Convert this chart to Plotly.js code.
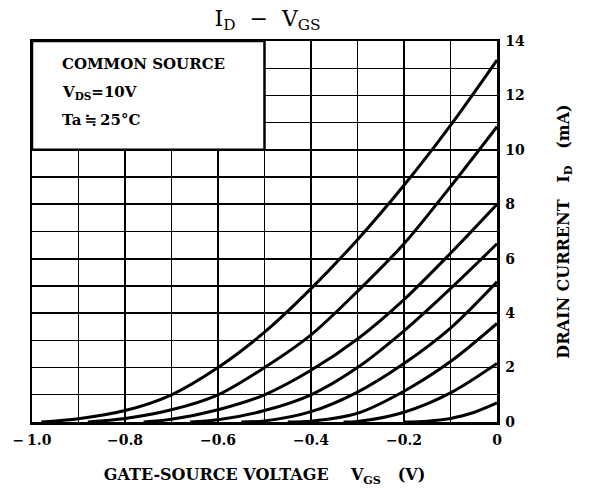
<!DOCTYPE html>
<html>
<head>
<meta charset="utf-8">
<script src="https://cdn.plot.ly/plotly-3.0.1.min.js"></script>
<style>html,body{margin:0;padding:0;background:#fff;}</style>
</head>
<body>
<div id="chart" style="width:592px;height:491px;"></div>
<script>
// Gate-source voltage (V) and drain current (mA) for each curve
const c1V = [-0.98, -0.9, -0.8, -0.7, -0.6, -0.5, -0.4, -0.3, -0.2, -0.1, 0];
const c1I = [0, 0.12, 0.42, 1.0, 2.0, 3.3, 4.9, 6.7, 8.7, 10.9, 13.3];
const c2V = [-0.88, -0.8, -0.7, -0.6, -0.5, -0.4, -0.3, -0.2, -0.1, 0];
const c2I = [0, 0.13, 0.45, 1.0, 2.0, 3.2, 4.8, 6.55, 8.65, 10.85];
const c3V = [-0.76, -0.7, -0.6, -0.5, -0.4, -0.3, -0.2, -0.1, 0];
const c3I = [0, 0.1, 0.45, 1.0, 1.9, 3.05, 4.5, 6.2, 8.0];
const c4V = [-0.66, -0.6, -0.5, -0.4, -0.3, -0.2, -0.1, 0];
const c4I = [0, 0.08, 0.42, 1.0, 2.0, 3.35, 4.9, 6.55];
const c5V = [-0.55, -0.5, -0.4, -0.3, -0.2, -0.1, 0];
const c5I = [0, 0.04, 0.38, 1.1, 2.15, 3.45, 5.15];
const c6V = [-0.45, -0.4, -0.3, -0.2, -0.1, 0];
const c6I = [0, 0.03, 0.32, 1.13, 2.22, 3.62];
const c7V = [-0.33, -0.3, -0.2, -0.1, 0];
const c7I = [0, 0.02, 0.36, 1.07, 2.15];
const c8V = [-0.2, -0.15, -0.1, -0.05, 0];
const c8I = [0, 0.03, 0.13, 0.35, 0.7];

const xTickVals = [-1.0, -0.8, -0.6, -0.4, -0.2, 0];
const xTickText = ['\u2212\u20091.0', '\u22120.8', '\u22120.6', '\u22120.4', '\u22120.2', '0'];
const xMinorVals = [-0.9, -0.7, -0.5, -0.3, -0.1];
const yTickVals = [0, 2, 4, 6, 8, 10, 12, 14];
const yTickText = ['0', '2', '4', '6', '8', '10', '12', '14'];
const yMinorVals = [1, 3, 5, 7, 9, 11, 13];

const curves = [[c1V, c1I], [c2V, c2I], [c3V, c3I], [c4V, c4I], [c5V, c5I], [c6V, c6I], [c7V, c7I], [c8V, c8I]];
const traces = curves.map(c => ({
  x: c[0], y: c[1], type: 'scatter', mode: 'lines',
  line: {color: 'black', width: 3, shape: 'spline', smoothing: 0.9},
  hoverinfo: 'skip'
}));

const FONT = 'DejaVu Serif, Liberation Serif, serif';
const nb = '\u00a0';

const layout = {
  width: 592, height: 491,
  margin: {l: 32, r: 95, t: 41, b: 68.5, pad: 0},
  paper_bgcolor: 'white', plot_bgcolor: 'white',
  showlegend: false,
  font: {family: FONT, color: 'black'},
  title: {
    text: 'I<sub>D</sub>' + nb + nb + '\u2212' + nb + nb + 'V<sub>GS</sub>',
    font: {family: FONT, size: 22, color: 'black'},
    x: 0.452, xref: 'container', xanchor: 'center',
    y: 1 - 18 / 491, yref: 'container', yanchor: 'middle'
  },
  xaxis: {
    range: [-1, 0], tickmode: 'array', tickvals: xTickVals, ticktext: xTickText,
    showgrid: true, gridcolor: 'black', gridwidth: 1.8,
    minor: {tickmode: 'array', tickvals: xMinorVals, showgrid: true, gridcolor: 'black', gridwidth: 1.2},
    showline: true, mirror: true, linecolor: 'black', linewidth: 2.5,
    zeroline: false, ticks: '', ticklabelstandoff: 4,
    tickfont: {family: FONT, size: 14, weight: 'bold', color: 'black'},
    title: {
      text: 'GATE-SOURCE VOLTAGE' + nb + nb + nb + nb + 'V<sub>GS</sub>' + nb + nb + nb + '(V)',
      font: {family: FONT, size: 16, weight: 'bold', color: 'black'},
      standoff: 22
    },
    fixedrange: true
  },
  yaxis: {
    range: [0, 14], side: 'right', tickmode: 'array', tickvals: yTickVals, ticktext: yTickText,
    showgrid: true, gridcolor: 'black', gridwidth: 1.8,
    minor: {tickmode: 'array', tickvals: yMinorVals, showgrid: true, gridcolor: 'black', gridwidth: 1.2},
    showline: true, mirror: true, linecolor: 'black', linewidth: 2.5,
    zeroline: false, ticks: '', ticklabelstandoff: 3,
    tickfont: {family: FONT, size: 14, weight: 'bold', color: 'black'},
    title: {
      text: 'DRAIN CURRENT' + nb + nb + nb + 'I<sub>D</sub>' + nb + nb + nb + '(mA)',
      font: {family: FONT, size: 16, weight: 'bold', color: 'black'},
      standoff: 34
    },
    fixedrange: true
  },
  shapes: [{
    type: 'rect', xref: 'x', yref: 'y', x0: -1, x1: -0.5, y0: 10, y1: 14,
    fillcolor: 'white', line: {color: 'black', width: 2.5}, layer: 'between'
  }],
  annotations: [
    {text: 'COMMON SOURCE', x: -0.94, y: 13.16, xref: 'x', yref: 'y', xanchor: 'left', yanchor: 'middle', showarrow: false,
     font: {family: FONT, size: 15, weight: 'bold', color: 'black'}},
    {text: 'V<sub>DS</sub>=10V', x: -0.94, y: 12.1, xref: 'x', yref: 'y', xanchor: 'left', yanchor: 'middle', showarrow: false,
     font: {family: FONT, size: 15, weight: 'bold', color: 'black'}},
    {text: 'Ta\u2009\u2252\u200925\u00b0C', x: -0.94, y: 11.1, xref: 'x', yref: 'y', xanchor: 'left', yanchor: 'middle', showarrow: false,
     font: {family: FONT, size: 15, weight: 'bold', color: 'black'}}
  ]
};

Plotly.newPlot('chart', traces, layout, {staticPlot: true, displayModeBar: false});
</script>
</body>
</html>
